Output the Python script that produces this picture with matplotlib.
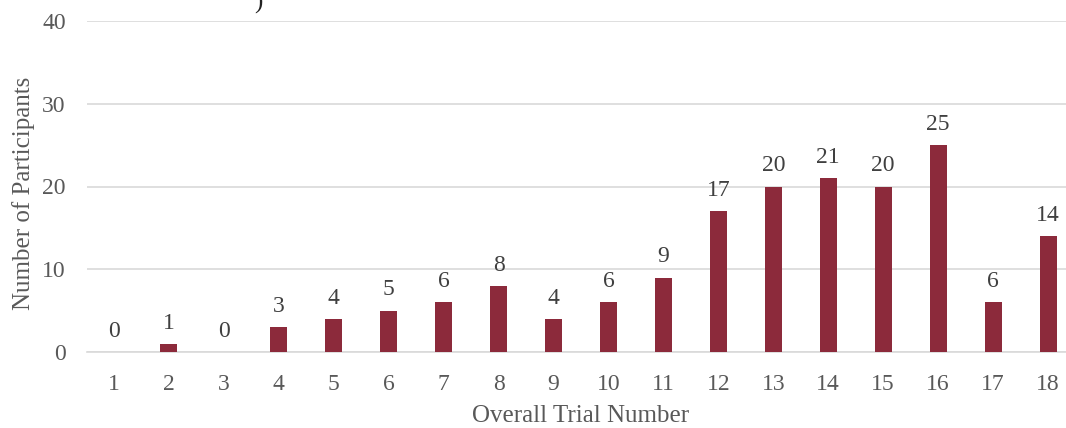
import matplotlib
matplotlib.use("Agg")
import matplotlib.pyplot as plt

trials = [str(i) for i in range(1, 19)]
participants = [0, 1, 0, 3, 4, 5, 6, 8, 4, 6, 9, 17, 20, 21, 20, 25, 6, 14]
y_ticks = [0, 10, 20, 30, 40]

plt.rcParams['font.family'] = ['Liberation Serif', 'DejaVu Serif']

fig = plt.figure(figsize=(10.66, 4.28), dpi=100)
ax = fig.add_axes([86.5 / 1066, 76 / 428, 989 / 1066, 331 / 428])

bar_color = '#8C2A3B'
x = range(len(trials))
ax.bar(x, participants, width=0.31, color=bar_color, zorder=3)

for xi, v in zip(x, participants):
    ax.text(xi, v + 2.5, str(v), ha='center', va='center', fontsize=17,
            color='#404040')

ax.set_xlim(-0.5, len(trials) - 0.5)
ax.set_ylim(0, 40)
ax.set_yticks(y_ticks)
ax.set_xticks(list(x))
ax.set_xticklabels(trials)
ax.yaxis.grid(True, color='#d9d9d9', linewidth=1.2, zorder=0)
ax.set_axisbelow(True)

for side in ['top', 'right', 'left']:
    ax.spines[side].set_visible(False)
ax.spines['bottom'].set_color('#d9d9d9')
ax.spines['bottom'].set_linewidth(1.2)

ax.tick_params(axis='both', length=0, labelsize=17, labelcolor='#595959')
ax.tick_params(axis='y', pad=15)
ax.tick_params(axis='x', pad=16)

ax.set_xlabel('Overall Trial Number', fontsize=18, color='#595959', labelpad=7)
ax.set_ylabel('Number of Participants', fontsize=18, color='#595959', labelpad=5)
ax.yaxis.label.set_y(0.48)

fig.text(258 / 1066, 0.995, ')', fontsize=18, color='#222222', ha='center',
         va='center')

fig.savefig('out.png', dpi=100)
